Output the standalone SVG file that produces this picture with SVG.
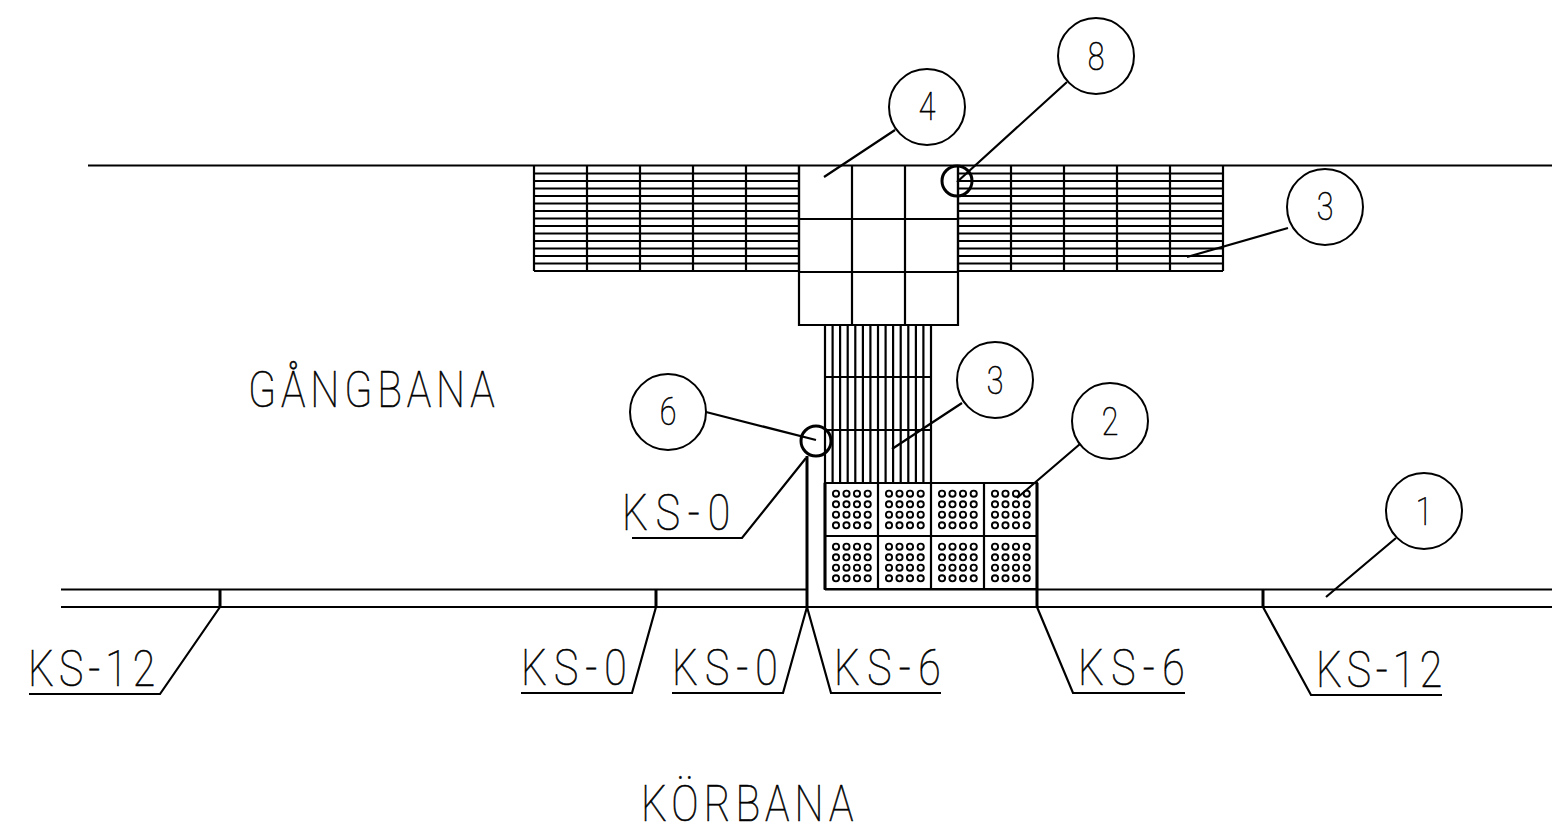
<svg xmlns="http://www.w3.org/2000/svg" xmlns:xlink="http://www.w3.org/1999/xlink" width="1552" height="827" viewBox="0 0 1552 827">
<style>
.l{fill:none;stroke:#000;stroke-width:2.2}
.t{fill:none;stroke:#000;stroke-width:3}
.b{fill:#fff;stroke:#000;stroke-width:2}
.d{fill:none;stroke:#000;stroke-width:1.9}
text{font-family:"Roboto","Liberation Sans",sans-serif;font-weight:100;fill:#000;stroke:#000;stroke-width:.6}
.lab{font-size:50px}
.num{font-size:38px;text-anchor:middle}
</style>
<defs>
<g id="cell">
<circle cx="11" cy="10.7" r="3.1" class="d"/><circle cx="21.5" cy="10.7" r="3.1" class="d"/><circle cx="32" cy="10.7" r="3.1" class="d"/><circle cx="42.7" cy="10.7" r="3.1" class="d"/>
<circle cx="11" cy="21.3" r="3.1" class="d"/><circle cx="21.5" cy="21.3" r="3.1" class="d"/><circle cx="32" cy="21.3" r="3.1" class="d"/><circle cx="42.7" cy="21.3" r="3.1" class="d"/>
<circle cx="11" cy="31.7" r="3.1" class="d"/><circle cx="21.5" cy="31.7" r="3.1" class="d"/><circle cx="32" cy="31.7" r="3.1" class="d"/><circle cx="42.7" cy="31.7" r="3.1" class="d"/>
<circle cx="11" cy="42.3" r="3.1" class="d"/><circle cx="21.5" cy="42.3" r="3.1" class="d"/><circle cx="32" cy="42.3" r="3.1" class="d"/><circle cx="42.7" cy="42.3" r="3.1" class="d"/>
</g>
<path id="hatch" class="l" d="M0 7.5H265M0 15H265M0 22.5H265M0 30H265M0 37.5H265M0 45H265M0 52.5H265M0 60H265M0 67.5H265M0 75H265M0 82.5H265M0 90H265M0 97.5H265M0 105H265M0 0V105M53 0V105M106 0V105M159 0V105M212 0V105M265 0V105"/>
</defs>
<rect width="1552" height="827" fill="#fff"/>
<g id="road">
<path class="l" d="M88 165.500H1552"/>
<path class="l" d="M61 589.500H807M825 589.500H1552M61 607H1552"/>
<path class="t" d="M220 589V607M656 589V607M1263 589V607M807 456V607M825 483V589.500M1037 483V607"/>
</g>
<g id="paving-left"><use xlink:href="#hatch" href="#hatch" x="534" y="166"/></g>
<g id="paving-right"><use xlink:href="#hatch" href="#hatch" x="958" y="166"/></g>
<g id="paving-center"><path class="l" d="M799 166V325H958V166M852 166V325M905 166V325M799 219H958M799 272H958"/></g>
<g id="paving-stem"><path class="l" d="M825 325V483M832.6 325V483M840.1 325V483M847.7 325V483M855.3 325V483M862.9 325V483M870.4 325V483M878 325V483M885.6 325V483M893.1 325V483M900.7 325V483M908.3 325V483M915.9 325V483M923.4 325V483M931 325V483M825 377H931M825 430H931"/></g>
<g id="dots">
<path class="l" d="M825 483H1037V589H825ZM878 483V589M931 483V589M984 483V589M825 536H1037"/>
<use xlink:href="#cell" href="#cell" x="825" y="483"/><use xlink:href="#cell" href="#cell" x="878" y="483"/><use xlink:href="#cell" href="#cell" x="931" y="483"/><use xlink:href="#cell" href="#cell" x="984" y="483"/>
<use xlink:href="#cell" href="#cell" x="825" y="536"/><use xlink:href="#cell" href="#cell" x="878" y="536"/><use xlink:href="#cell" href="#cell" x="931" y="536"/><use xlink:href="#cell" href="#cell" x="984" y="536"/>
</g>
<g id="connectors">
<path class="l" d="M895 130L824 177M1067 82L957 182M1288 228L1187 257M962 403L892 449M706 412L816 440M1080 444L1017 498M1396 538L1326 597"/>
<path class="l" d="M806 458L742 538H632M220 607L160 694H29M656 607L632 693H521M807 607L783 693H672M807 607L831 693H941M1037 607L1073 693H1185M1263 607L1311 695H1442"/>
</g>
<g id="marker-8-detail"><circle cx="957" cy="181" r="15" class="t"/></g>
<g id="marker-6-detail"><circle cx="816" cy="441" r="15" class="t"/></g>
<g id="n4"><circle cx="927" cy="107" r="38" class="b"/><text class="num" transform="translate(927 120) scale(.8 1)">4</text></g>
<g id="n8"><circle cx="1096" cy="56" r="38" class="b"/><text class="num" transform="translate(1096 70) scale(.8 1)">8</text></g>
<g id="n3a"><circle cx="1325" cy="207" r="38" class="b"/><text class="num" transform="translate(1325 220) scale(.8 1)">3</text></g>
<g id="n3b"><circle cx="995" cy="380" r="38" class="b"/><text class="num" transform="translate(995 394) scale(.8 1)">3</text></g>
<g id="n6"><circle cx="668" cy="412" r="38" class="b"/><text class="num" transform="translate(668 425) scale(.8 1)">6</text></g>
<g id="n2"><circle cx="1110" cy="421" r="38" class="b"/><text class="num" transform="translate(1110 435) scale(.8 1)">2</text></g>
<g id="n1"><circle cx="1424" cy="511" r="38" class="b"/><text class="num" transform="translate(1424 525) scale(.8 1)">1</text></g>
<g id="labels">
<text class="lab" transform="translate(248 407) scale(.82 1)" textLength="301" lengthAdjust="spacing">GÅNGBANA</text>
<text class="lab" transform="translate(641 821) scale(.82 1)" textLength="259" lengthAdjust="spacing">KÖRBANA</text>
<text class="lab" transform="translate(622 530) scale(.82 1)" textLength="132" lengthAdjust="spacing">KS-0</text>
<text class="lab" transform="translate(28 686) scale(.82 1)" textLength="155" lengthAdjust="spacing">KS-12</text>
<text class="lab" transform="translate(521 685) scale(.82 1)" textLength="129" lengthAdjust="spacing">KS-0</text>
<text class="lab" transform="translate(672 685) scale(.82 1)" textLength="129" lengthAdjust="spacing">KS-0</text>
<text class="lab" transform="translate(834 685) scale(.82 1)" textLength="130" lengthAdjust="spacing">KS-6</text>
<text class="lab" transform="translate(1078 685) scale(.82 1)" textLength="130" lengthAdjust="spacing">KS-6</text>
<text class="lab" transform="translate(1316 687) scale(.82 1)" textLength="154" lengthAdjust="spacing">KS-12</text>
</g>
</svg>
